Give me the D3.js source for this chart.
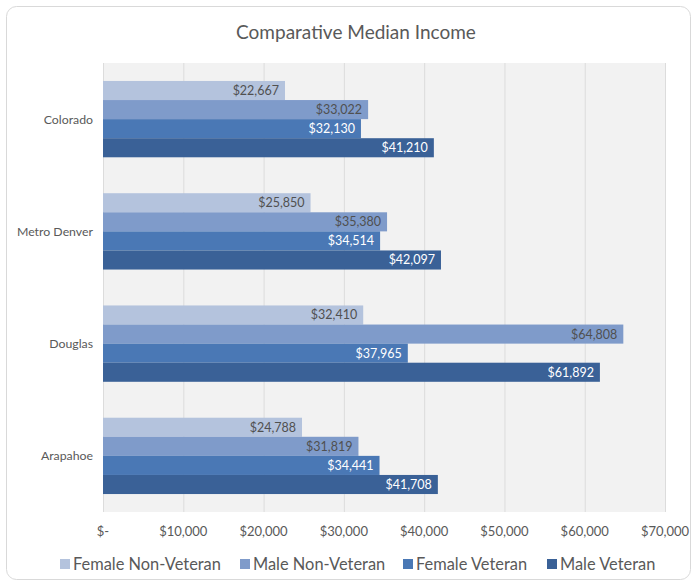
<!DOCTYPE html>
<html>
<head>
<meta charset="utf-8">
<script src="https://cdn.jsdelivr.net/npm/d3@7"></script>
<style>
  html, body { margin: 0; padding: 0; background: #ffffff; }
  svg { display: block; font-family: Lato, "Open Sans", "Noto Sans", sans-serif; }
</style>
</head>
<body>
<svg id="chart" width="697" height="587"></svg>
<script>
// Counties / regions, top to bottom
const categories = ["Colorado", "Metro Denver", "Douglas", "Arapahoe"];
const seriesNames = ["Female Non-Veteran", "Male Non-Veteran", "Female Veteran", "Male Veteran"];
const femaleNonVeteran = [22667, 25850, 32410, 24788];
const maleNonVeteran   = [33022, 35380, 64808, 31819];
const femaleVeteran    = [32130, 34514, 37965, 34441];
const maleVeteran      = [41210, 42097, 61892, 41708];
const tickValues = [0, 10000, 20000, 30000, 40000, 50000, 60000, 70000];
const tickLabels = ["$-", "$10,000", "$20,000", "$30,000", "$40,000", "$50,000", "$60,000", "$70,000"];

const seriesValues = [femaleNonVeteran, maleNonVeteran, femaleVeteran, maleVeteran];
const colors = ["#b4c3dd", "#7f9bca", "#4a78b5", "#3a6197"];
const labelColors = ["#505050", "#505050", "#ffffff", "#ffffff"];

const svg = d3.select("#chart");

// Outer chart frame
svg.append("rect")
  .attr("x", 6.5).attr("y", 6.5)
  .attr("width", 684).attr("height", 573)
  .attr("rx", 10).attr("ry", 10)
  .attr("fill", "#ffffff")
  .attr("stroke", "#d9d9d9")
  .attr("stroke-width", 1);

// Title
svg.append("text")
  .attr("x", 356).attr("y", 39)
  .attr("text-anchor", "middle")
  .attr("font-size", 19)
  .attr("fill", "#595959")
  .text("Comparative Median Income");

const plot = { left: 103, right: 665, top: 63, bottom: 512 };

const x = d3.scaleLinear().domain([0, 70000]).range([plot.left, plot.right]);
const y = d3.scaleBand().domain(categories).range([plot.top, plot.bottom])
  .paddingInner(0.32).paddingOuter(0.16);
const ySeries = d3.scaleBand().domain(d3.range(seriesNames.length))
  .range([0, y.bandwidth()]).padding(0);

// Plot area background
svg.append("rect")
  .attr("x", plot.left).attr("y", plot.top)
  .attr("width", plot.right - plot.left).attr("height", plot.bottom - plot.top)
  .attr("fill", "#f2f2f2");

// Vertical gridlines
svg.append("g")
  .selectAll("line")
  .data(tickValues)
  .join("line")
  .attr("x1", d => x(d) + 0.5).attr("x2", d => x(d) + 0.5)
  .attr("y1", plot.top).attr("y2", plot.bottom)
  .attr("stroke", "#dcdcdc")
  .attr("stroke-width", 1);

// Bars
const groups = svg.append("g")
  .selectAll("g")
  .data(categories)
  .join("g")
  .attr("transform", d => `translate(0,${y(d)})`);

groups.each(function(cat, ci) {
  const g = d3.select(this);
  seriesValues.forEach((vals, si) => {
    const v = vals[ci];
    g.append("rect")
      .attr("x", x(0))
      .attr("y", ySeries(si))
      .attr("width", x(v) - x(0))
      .attr("height", ySeries.bandwidth())
      .attr("fill", colors[si]);
    g.append("text")
      .attr("x", x(v) - 6)
      .attr("y", ySeries(si) + ySeries.bandwidth() / 2)
      .attr("dy", "0.36em")
      .attr("text-anchor", "end")
      .attr("font-size", 12.5)
      .attr("fill", labelColors[si])
      .text(d3.format("$,")(v));
  });
});

// Category axis labels
svg.append("g")
  .selectAll("text")
  .data(categories)
  .join("text")
  .attr("x", 93)
  .attr("y", d => y(d) + y.bandwidth() / 2)
  .attr("dy", "0.36em")
  .attr("text-anchor", "end")
  .attr("font-size", 12.3)
  .attr("fill", "#595959")
  .text(d => d);

// Value axis labels
svg.append("g")
  .selectAll("text")
  .data(tickValues)
  .join("text")
  .attr("x", d => x(d))
  .attr("y", 531)
  .attr("dy", "0.36em")
  .attr("text-anchor", "middle")
  .attr("font-size", 13)
  .attr("fill", "#595959")
  .text((d, i) => tickLabels[i]);

// Legend
const legendX = [60, 240, 403, 547];
const legend = svg.append("g")
  .selectAll("g")
  .data(seriesNames)
  .join("g")
  .attr("transform", (d, i) => `translate(${legendX[i]},564)`);
legend.append("rect")
  .attr("x", 0).attr("y", -5)
  .attr("width", 10).attr("height", 10)
  .attr("fill", (d, i) => colors[i]);
legend.append("text")
  .attr("x", 13).attr("y", 0)
  .attr("dy", "0.36em")
  .attr("font-size", 16.4)
  .attr("fill", "#595959")
  .text(d => d);
</script>
</body>
</html>
